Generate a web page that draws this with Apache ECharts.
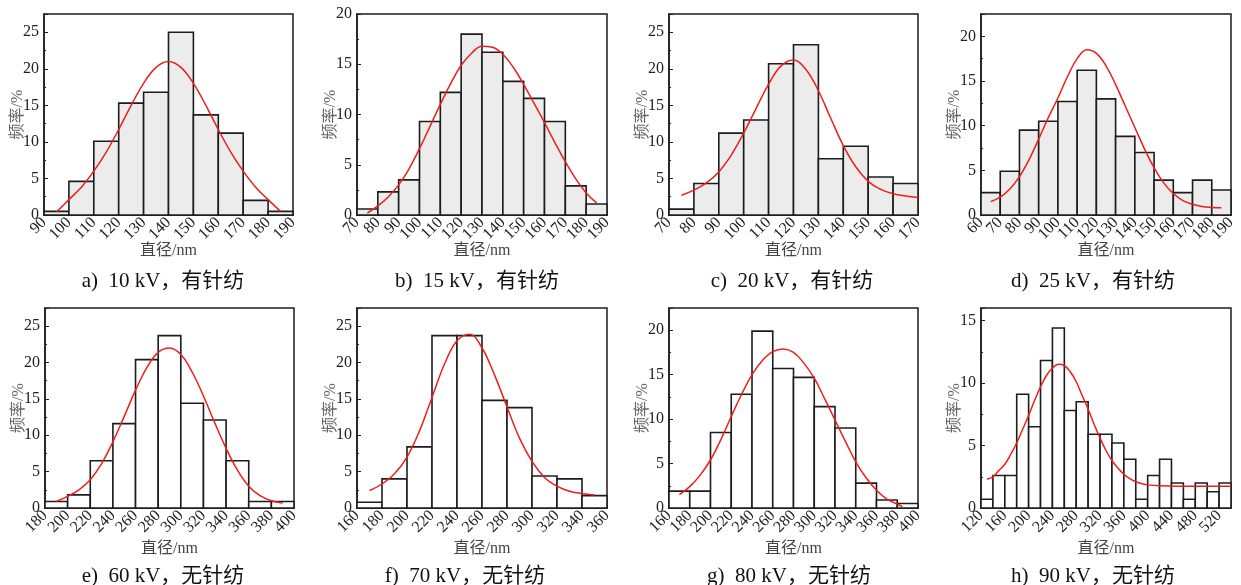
<!DOCTYPE html>
<html>
<head>
<meta charset="utf-8">
<script src="https://cdn.jsdelivr.net/npm/echarts@6/dist/echarts.min.js"></script>
<style>
  html, body { margin: 0; padding: 0; background: #fff; }
  #chart { width: 1241px; height: 585px; }
</style>
</head>
<body>
<div id="chart"></div>
<script>
// a) 10 kV
const edgesA = [90, 100, 110, 120, 130, 140, 150, 160, 170, 180, 190];
const freqA = [0.5, 4.6, 10.1, 15.3, 16.8, 25.0, 13.7, 11.2, 2.0, 0.5];
const fitXA = [95, 100, 105, 110, 115, 120, 125, 130, 135, 140, 145, 150, 155, 160, 165, 170, 175, 180, 185];
const fitYA = [0.4, 2.1, 3.8, 6.0, 8.6, 11.7, 15.0, 18.0, 20.2, 21.0, 20.2, 18.0, 15.0, 11.7, 8.6, 6.0, 3.8, 2.1, 0.5];

// b) 15 kV
const edgesB = [70, 80, 90, 100, 110, 120, 130, 140, 150, 160, 170, 180, 190];
const freqB = [0.6, 2.3, 3.5, 9.3, 12.2, 18.0, 16.2, 13.3, 11.6, 9.3, 2.9, 1.1];
const fitXB = [75, 80, 85, 90, 95, 100, 105, 110, 115, 120, 125, 130, 135, 140, 145, 150, 155, 160, 165, 170, 175, 180, 185];
const fitYB = [0.2, 0.9, 1.8, 3.0, 4.6, 6.6, 8.8, 11.0, 13.1, 14.9, 16.1, 16.8, 16.7, 16.0, 14.7, 13.0, 11.1, 9.2, 7.2, 5.3, 3.6, 2.2, 1.2];

// c) 20 kV
const edgesC = [70, 80, 90, 100, 110, 120, 130, 140, 150, 160, 170];
const freqC = [0.8, 4.3, 11.2, 13.0, 20.7, 23.3, 7.7, 9.4, 5.2, 4.3];
const fitXC = [75, 80, 85, 90, 95, 100, 105, 110, 115, 120, 125, 130, 135, 140, 145, 150, 155, 160, 165, 170];
const fitYC = [2.7, 3.4, 4.4, 5.9, 8.2, 11.2, 14.6, 17.9, 20.4, 21.2, 19.9, 17.0, 13.2, 9.5, 6.6, 4.6, 3.5, 2.9, 2.6, 2.4];

// d) 25 kV
const edgesD = [60, 70, 80, 90, 100, 110, 120, 130, 140, 150, 160, 170, 180, 190];
const freqD = [2.5, 4.9, 9.5, 10.5, 12.7, 16.2, 13.0, 8.8, 7.0, 3.9, 2.5, 3.9, 2.8];
const fitXD = [65, 70, 75, 80, 85, 90, 95, 100, 105, 110, 115, 120, 125, 130, 135, 140, 145, 150, 155, 160, 165, 170, 175, 180, 185];
const fitYD = [1.5, 2.0, 2.9, 4.3, 6.2, 8.5, 10.9, 13.1, 15.5, 17.5, 18.5, 18.1, 16.7, 14.6, 12.2, 9.8, 7.4, 5.3, 3.6, 2.4, 1.6, 1.2, 0.95, 0.85, 0.8];

// e) 60 kV
const edgesE = [180, 200, 220, 240, 260, 280, 300, 320, 340, 360, 380, 400];
const freqE = [0.9, 1.8, 6.5, 11.6, 20.4, 23.7, 14.4, 12.1, 6.5, 0.9, 0.9];
const fitXE = [190, 200, 210, 220, 230, 240, 250, 260, 270, 280, 290, 300, 310, 320, 330, 340, 350, 360, 370, 380, 390];
const fitYE = [0.9, 1.6, 2.5, 3.9, 6.1, 9.1, 12.6, 16.2, 19.3, 21.4, 22.0, 21.1, 18.7, 15.4, 11.7, 8.2, 5.2, 3.0, 1.7, 1.0, 0.7];

// f) 70 kV
const edgesF = [160, 180, 200, 220, 240, 260, 280, 300, 320, 340, 360];
const freqF = [0.8, 4.0, 8.4, 23.7, 23.7, 14.8, 13.8, 4.4, 4.0, 1.7];
const fitXF = [170, 180, 190, 200, 210, 220, 230, 240, 250, 260, 270, 280, 290, 300, 310, 320, 330, 340, 350];
const fitYF = [2.4, 3.3, 4.7, 7.0, 10.6, 15.2, 19.8, 23.0, 23.9, 22.0, 18.3, 13.9, 9.6, 6.4, 4.2, 3.0, 2.3, 2.0, 1.8];

// g) 80 kV
const edgesG = [160, 180, 200, 220, 240, 260, 280, 300, 320, 340, 360, 380, 400];
const freqG = [1.9, 1.9, 8.5, 12.8, 19.9, 15.7, 14.7, 11.4, 9.0, 2.8, 0.9, 0.5];
const fitXG = [170, 180, 190, 200, 210, 220, 230, 240, 250, 260, 270, 280, 290, 300, 310, 320, 330, 340, 350, 360, 370, 380, 385];
const fitYG = [1.5, 2.4, 3.7, 5.4, 7.7, 10.3, 12.8, 15.0, 16.6, 17.6, 17.9, 17.5, 16.3, 14.6, 12.3, 9.9, 7.5, 5.2, 3.4, 2.0, 1.0, 0.45, 0.15];

// h) 90 kV
const edgesH = [120, 140, 160, 180, 200, 220, 240, 260, 280, 300, 320, 340, 360, 380, 400, 420, 440, 460, 480, 500, 520, 540];
const freqH = [0.7, 2.6, 2.6, 9.1, 6.5, 11.8, 14.4, 7.8, 8.5, 5.9, 5.9, 5.2, 3.9, 0.7, 2.6, 3.9, 2.0, 0.7, 2.0, 1.3, 2.0];
const fitXH = [130, 140, 150, 160, 170, 180, 190, 200, 210, 220, 230, 240, 250, 260, 270, 280, 290, 300, 310, 320, 330, 340, 350, 360, 370, 380, 390, 400, 420, 450, 480, 510, 540];
const fitYH = [2.3, 2.5, 3.0, 3.5, 4.3, 5.2, 6.3, 7.4, 8.6, 9.7, 10.6, 11.2, 11.5, 11.4, 10.9, 10.1, 9.0, 7.9, 6.7, 5.6, 4.6, 3.8, 3.2, 2.7, 2.35, 2.1, 1.95, 1.85, 1.78, 1.75, 1.75, 1.75, 1.75];

const captions = ['a)  10 kV，有针纺', 'b)  15 kV，有针纺', 'c)  20 kV，有针纺', 'd)  25 kV，有针纺',
                  'e)  60 kV，无针纺', 'f)  70 kV，无针纺', 'g)  80 kV，无针纺', 'h)  90 kV，无针纺'];

var chartDom = document.getElementById('chart');
var myChart = echarts.init(chartDom);

const FONT = "'Liberation Serif', 'Noto Sans CJK SC', serif";

// layout of each small panel
const panels = [
  { edges: edgesA, freq: freqA, fx: fitXA, fy: fitYA, xStep: 10, yMax: 27.5, left: 44, top: 14, width: 249, height: 201, fill: '#ececec', capX: 163 },
  { edges: edgesB, freq: freqB, fx: fitXB, fy: fitYB, xStep: 10, yMax: 20, left: 357, top: 14, width: 250, height: 201, fill: '#ececec', capX: 477 },
  { edges: edgesC, freq: freqC, fx: fitXC, fy: fitYC, xStep: 10, yMax: 27.5, left: 669, top: 14, width: 249, height: 201, fill: '#ececec', capX: 792 },
  { edges: edgesD, freq: freqD, fx: fitXD, fy: fitYD, xStep: 10, yMax: 22.5, left: 981, top: 14, width: 250, height: 201, fill: '#ececec', capX: 1093 },
  { edges: edgesE, freq: freqE, fx: fitXE, fy: fitYE, xStep: 20, yMax: 27.5, left: 45, top: 308, width: 249, height: 200, fill: '#ffffff', capX: 163 },
  { edges: edgesF, freq: freqF, fx: fitXF, fy: fitYF, xStep: 20, yMax: 27.5, left: 357, top: 308, width: 250, height: 200, fill: '#ffffff', capX: 465 },
  { edges: edgesG, freq: freqG, fx: fitXG, fy: fitYG, xStep: 20, yMax: 22.5, left: 669, top: 308, width: 249, height: 200, fill: '#ffffff', capX: 789 },
  { edges: edgesH, freq: freqH, fx: fitXH, fy: fitYH, xStep: 40, yMax: 16, left: 981, top: 308, width: 250, height: 200, fill: '#ffffff', capX: 1093 },
];

function histItem(fill) {
  return function (params, api) {
    const p0 = api.coord([api.value(0), api.value(2)]);
    const p1 = api.coord([api.value(1), 0]);
    return {
      type: 'rect',
      shape: { x: p0[0], y: p0[1], width: p1[0] - p0[0], height: p1[1] - p0[1] },
      style: { fill: fill, stroke: '#1c1c1c', lineWidth: 1.6 },
    };
  };
}

// the rotated tick labels are packed tight, so alternate ones go on a second
// (invisible) axis to keep echarts from dropping them
function altLabels(xMin, xStep, parity) {
  return function (v) {
    const k = Math.round((v - xMin) / xStep);
    if (Math.abs(v - xMin - k * xStep) > 1e-6) return '';
    return k % 2 === parity ? String(v) : '';
  };
}

const grid = [], xAxis = [], yAxis = [], series = [], graphic = [], extraX = [];

panels.forEach(function (p, i) {
  const bottomRow = i >= 4;
  grid.push({
    left: p.left, top: p.top, width: p.width, height: p.height,
    outerBoundsMode: 'none', containLabel: false,
    show: true, borderColor: '#1c1c1c', borderWidth: 1.5, backgroundColor: 'transparent',
  });
  const xMin = p.edges[0], xMax = p.edges[p.edges.length - 1];
  const aligned = (xMax - xMin) % p.xStep === 0;
  const lastOdd = Math.round((xMax - xMin) / p.xStep) % 2 === 1;
  const labelStyle = { rotate: 45, margin: 5, fontFamily: FONT, fontSize: 16, color: '#222' };
  xAxis.push({
    gridIndex: i, type: 'value', position: 'bottom', min: xMin, max: xMax, interval: p.xStep,
    name: '直径/nm', nameLocation: 'middle', nameGap: bottomRow ? 33 : 28,
    nameMoveOverlap: false,
    nameTextStyle: { fontFamily: FONT, fontSize: 16, color: '#444' },
    axisLine: { lineStyle: { color: '#1c1c1c', width: 1.5 } },
    axisTick: { inside: true, length: 3, lineStyle: { color: '#1c1c1c' } },
    splitLine: { show: false },
    axisLabel: Object.assign({}, labelStyle, {
      showMinLabel: true, showMaxLabel: aligned && !lastOdd,
      formatter: altLabels(xMin, p.xStep, 0),
    }),
  });
  extraX.push({
    gridIndex: i, type: 'value', position: 'bottom', min: xMin, max: xMax, interval: p.xStep,
    axisLine: { show: false }, axisTick: { show: false }, splitLine: { show: false },
    axisLabel: Object.assign({}, labelStyle, {
      showMinLabel: false, showMaxLabel: aligned && lastOdd,
      formatter: altLabels(xMin, p.xStep, 1),
    }),
  });
  yAxis.push({
    gridIndex: i, type: 'value', min: 0, max: p.yMax, interval: 5,
    name: '频率/%', nameLocation: 'middle', nameGap: 18,
    nameMoveOverlap: false,
    nameTextStyle: { fontFamily: FONT, fontSize: 16, color: '#666' },
    axisLine: { show: true, lineStyle: { color: '#1c1c1c', width: 1.5 } },
    axisTick: { show: true, inside: true, length: 4, lineStyle: { color: '#1c1c1c' } },
    minorTick: { show: true, splitNumber: 2, length: 2, lineStyle: { color: '#1c1c1c' } },
    splitLine: { show: false },
    axisLabel: {
      margin: 5, fontFamily: FONT, fontSize: 16, color: '#222',
      showMinLabel: true,
      showMaxLabel: p.yMax % 5 === 0,
    },
  });
  series.push({
    type: 'custom', xAxisIndex: i, yAxisIndex: i,
    renderItem: histItem(p.fill),
    encode: { x: [0, 1], y: 2 },
    data: p.freq.map(function (v, k) { return [p.edges[k], p.edges[k + 1], v]; }),
    z: 2,
  });
  series.push({
    type: 'line', xAxisIndex: i, yAxisIndex: i, smooth: 0.4, showSymbol: false,
    lineStyle: { color: '#ee1d1d', width: 1.5 },
    data: p.fx.map(function (x, k) { return [x, p.fy[k]]; }),
    z: 3,
  });
  graphic.push({
    type: 'text', x: p.capX, y: bottomRow ? 576 : 281,
    style: {
      text: captions[i], fontFamily: FONT, fontSize: 21, fill: '#111',
      align: 'center', verticalAlign: 'middle',
    },
  });
});

var option = {
  animation: false,
  backgroundColor: '#fff',
  grid: grid,
  xAxis: xAxis.concat(extraX),
  yAxis: yAxis,
  series: series,
  graphic: graphic,
};

option && myChart.setOption(option);
</script>
</body>
</html>
